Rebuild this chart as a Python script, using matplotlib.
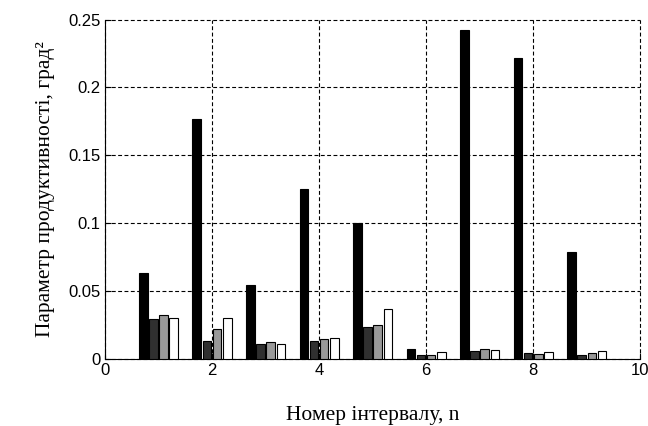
import numpy as np
import matplotlib.pyplot as plt

intervals = np.arange(1, 10)
s1 = [0.063, 0.177, 0.0545, 0.125, 0.100, 0.0071, 0.242, 0.222, 0.079]
s2 = [0.029, 0.013, 0.0106, 0.013, 0.023, 0.0030, 0.0060, 0.0045, 0.0030]
s3 = [0.032, 0.022, 0.0121, 0.0146, 0.025, 0.0030, 0.0069, 0.0032, 0.0039]
s4 = [0.030, 0.030, 0.0109, 0.0149, 0.037, 0.0052, 0.0062, 0.0047, 0.0060]
series = [s1, s2, s3, s4]
colors = ["#000000", "#303030", "#999999", "#ffffff"]


def main():
    fig = plt.figure(figsize=(6.48, 4.26), dpi=100)
    ax = fig.add_axes([0.162, 0.158, 0.826, 0.796])

    width = 0.16
    step = 0.19
    for i, (vals, c) in enumerate(zip(series, colors)):
        off = (i - 1.5) * step
        ax.bar(intervals + off, vals, width, color=c, edgecolor="black",
               linewidth=0.8, zorder=3)

    ax.set_xlim(0, 10)
    ax.set_ylim(0, 0.25)
    ax.set_xticks(range(0, 11, 2))
    ax.set_yticks([0, 0.05, 0.1, 0.15, 0.2, 0.25])
    ax.set_yticklabels(["0", "0.05", "0.1", "0.15", "0.2", "0.25"])
    ax.grid(True, color="black", linestyle=(0, (3.5, 2.2)), linewidth=0.8, zorder=1)
    for line in ax.get_xgridlines() + ax.get_ygridlines():
        line.set_clip_on(False)
    ax.spines["top"].set_visible(False)
    ax.spines["right"].set_visible(False)
    ax.tick_params(direction="in", length=4, labelsize=12, pad=3)
    for lab in ax.get_xticklabels() + ax.get_yticklabels():
        lab.set_family("Liberation Sans")

    ax.set_xlabel("Номер інтервалу, n", family="Liberation Serif",
                  fontsize=15.5, labelpad=20)
    ax.set_ylabel("Параметр продуктивності, град²", family="Liberation Serif",
                  fontsize=15.5, labelpad=10)

    fig.savefig("out.png", dpi=100)


if __name__ == '__main__':
    main()
